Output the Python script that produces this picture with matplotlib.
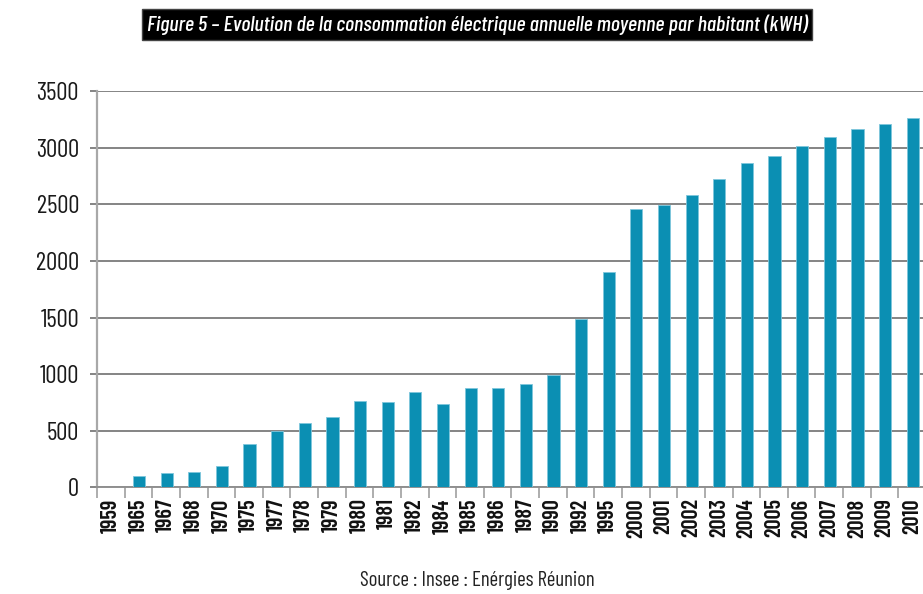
import matplotlib
matplotlib.use("Agg")
import matplotlib.pyplot as plt
from matplotlib.ticker import FixedLocator, NullFormatter

years = ["1959", "1965", "1967", "1968", "1970", "1975", "1977", "1978", "1979", "1980",
         "1981", "1982", "1984", "1985", "1986", "1987", "1990", "1992", "1995", "2000",
         "2001", "2002", "2003", "2004", "2005", "2006", "2007", "2008", "2009", "2010"]
values = [0, 100, 129, 138, 190, 386, 500, 568, 622, 763,
          754, 843, 737, 878, 878, 913, 993, 1490, 1903, 2459,
          2494, 2583, 2726, 2867, 2929, 3018, 3097, 3168, 3215, 3265]
yticks = [0, 500, 1000, 1500, 2000, 2500, 3000, 3500]

title = "Figure 5 – Evolution de la consommation électrique annuelle moyenne par habitant (kWH)"
source = "Source : Insee : Enérgies Réunion"

FONT = ["Barlow Condensed", "DejaVu Sans"]
plt.rcParams['font.family'] = FONT

fig = plt.figure(figsize=(9.23, 5.94), dpi=100)
ax = fig.add_axes([97/923, 1 - 487.3/594, 829/923, (487.3 - 91.3)/594])

x = list(range(len(years)))
ax.bar([xi + 0.02 for xi in x], values, width=0.44, color="#0b8fb3", edgecolor="#7fc6dc",
       linewidth=0.6, zorder=3)

ax.set_xlim(-0.5, len(years) - 0.5)
ax.set_ylim(0, 3500)

ax.set_yticks(yticks)
ax.set_yticklabels([str(t) for t in yticks], fontsize=18, color="#1a1a1a")
ax.yaxis.grid(True, color="#707070", linewidth=1.2, zorder=1)
ax.tick_params(axis='y', length=5, width=1.2, color="#707070", pad=8)

ax.xaxis.set_major_locator(FixedLocator([i - 0.5 for i in range(len(years) + 1)]))
ax.xaxis.set_major_formatter(NullFormatter())
ax.xaxis.set_minor_locator(FixedLocator(x))
ax.set_xticklabels(years, minor=True, rotation=90, fontsize=16, fontweight=600,
                   color="#111111")
ax.tick_params(axis='x', which='major', length=8, width=1.2, color="#a0a0a0")
ax.tick_params(axis='x', which='minor', length=0, pad=8)

for s in ["top", "right"]:
    ax.spines[s].set_visible(False)
ax.spines["left"].set_color("#a8a8a8")
ax.spines["left"].set_linewidth(1.6)
ax.spines["bottom"].set_color("#909090")
ax.spines["bottom"].set_linewidth(1.4)
ax.set_axisbelow(True)

fig.text(477/923, 1 - 24.5/594, title, ha="center", va="center", color="white",
         fontsize=15.8, style="italic", fontweight=500, family=FONT,
         bbox=dict(facecolor="black", edgecolor="#444444", boxstyle="square,pad=0.22"))
fig.text(477/923, 1 - 580/594, source, ha="center", va="center", color="#222222",
         fontsize=15, family=FONT)

fig.savefig("out.png", dpi=100)
